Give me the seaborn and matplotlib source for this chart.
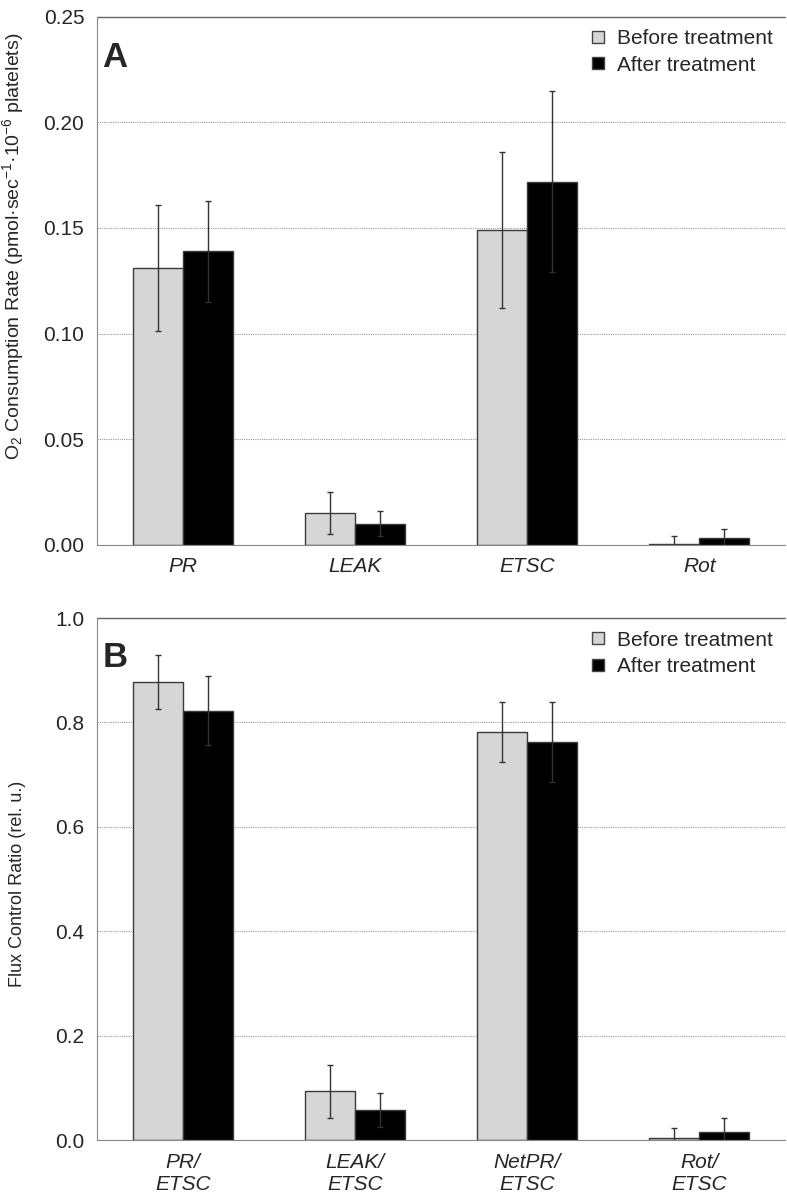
import numpy as np
import pandas as pd
import matplotlib
matplotlib.use("Agg")
import matplotlib.pyplot as plt
import seaborn as sns
from matplotlib.lines import Line2D

sns.set_style("white")
plt.rcParams['font.family'] = ['Liberation Sans', 'DejaVu Sans']
plt.rcParams['mathtext.default'] = 'regular'

groups = ["Before treatment", "After treatment"]

# panel A: O2 consumption rate
cats_a = ["PR", "LEAK", "ETSC", "Rot"]
before_a = [0.131, 0.015, 0.149, 0.0005]
after_a = [0.139, 0.010, 0.172, 0.003]
before_a_err = [0.030, 0.010, 0.037, 0.0035]
after_a_err = [0.024, 0.006, 0.043, 0.0045]

# panel B: flux control ratios
cats_b = ["PR/\nETSC", "LEAK/\nETSC", "NetPR/\nETSC", "Rot/\nETSC"]
before_b = [0.877, 0.093, 0.782, 0.003]
after_b = [0.822, 0.057, 0.763, 0.015]
before_b_err = [0.052, 0.050, 0.058, 0.020]
after_b_err = [0.066, 0.033, 0.077, 0.027]

colors = {"Before treatment": "#d6d6d6", "After treatment": "#000000"}


def panel(ax, cats, before, after, berr, aerr, ymax, step, fmt, letter, ylabel, ylsize, ylpos):
    df = pd.DataFrame({
        "cat": cats * 2,
        "group": [groups[0]] * len(cats) + [groups[1]] * len(cats),
        "val": before + after,
    })
    sns.barplot(data=df, x="cat", y="val", hue="group", palette=colors,
                width=0.58, errorbar=None, edgecolor="#3a3a3a", linewidth=1.0,
                legend=False, ax=ax)
    errs = berr + aerr
    vals = before + after
    for p, v, e in zip(ax.patches[:len(vals)], vals, errs):
        cx = p.get_x() + p.get_width() / 2
        ax.errorbar(cx, v, yerr=e, fmt="none", ecolor="#333333",
                    elinewidth=1.0, capsize=2.5, capthick=1.0, zorder=5)
    ax.set_xlim(-0.5, len(cats) - 0.5)
    ax.set_ylim(0, ymax)
    ax.set_yticks(np.arange(0, ymax + step / 2, step))
    ax.yaxis.set_major_formatter(matplotlib.ticker.FormatStrFormatter(fmt))
    ax.yaxis.grid(True, color="#9a9a9a", linestyle=(0, (1, 1)), linewidth=0.8)
    ax.set_axisbelow(True)
    for s in ["top", "right"]:
        ax.spines[s].set_visible(False)
    ax.spines["left"].set_color("#888888")
    ax.spines["bottom"].set_color("#888888")
    ax.axhline(ymax, color="#666666", linewidth=1.0, clip_on=False)
    ax.set_xticks(range(len(cats)))
    ax.set_xticklabels(cats, fontstyle="italic", fontsize=15)
    ax.set_xticks(np.arange(-0.5, len(cats), 1), minor=True)
    ax.tick_params(axis="x", which="major", length=0, pad=9)
    ax.tick_params(axis="x", which="minor", length=4, color="#888888", direction="out")
    ax.tick_params(axis="y", length=5, color="#888888", direction="out", labelsize=15, pad=4)
    ax.set_xlabel("")
    ax.set_ylabel(ylabel, fontsize=ylsize)
    ax.yaxis.set_label_coords(-0.103, ylpos)
    ax.text(0.008, 0.955, letter, transform=ax.transAxes, fontsize=25,
            fontweight="bold", va="top", ha="left")
    handles = [Line2D([], [], marker="s", linestyle="none", markersize=9,
                      markerfacecolor=colors[g], markeredgecolor="#444444")
               for g in groups]
    ax.legend(handles, groups, loc="upper right", frameon=False, fontsize=15,
              handletextpad=-0.1, borderaxespad=0.2, labelspacing=0.35,
              bbox_to_anchor=(1.0, 1.0))


fig = plt.figure(figsize=(7.87, 12), dpi=100)
ax1 = fig.add_axes([0.123, 0.546, 0.875, 0.44])
ax2 = fig.add_axes([0.123, 0.05, 0.875, 0.435])

panel(ax1, cats_a, before_a, after_a, before_a_err, after_a_err, 0.25, 0.05, "%.2f", "A",
      "O$_2$ Consumption Rate (pmol\u00b7sec$^{-1}$\u00b710$^{-6}$ platelets)", 14, 0.565)
panel(ax2, cats_b, before_b, after_b, before_b_err, after_b_err, 1.0, 0.2, "%.1f", "B",
      "Flux Control Ratio (rel. u.)", 13, 0.49)

fig.savefig("out.png", dpi=100)
